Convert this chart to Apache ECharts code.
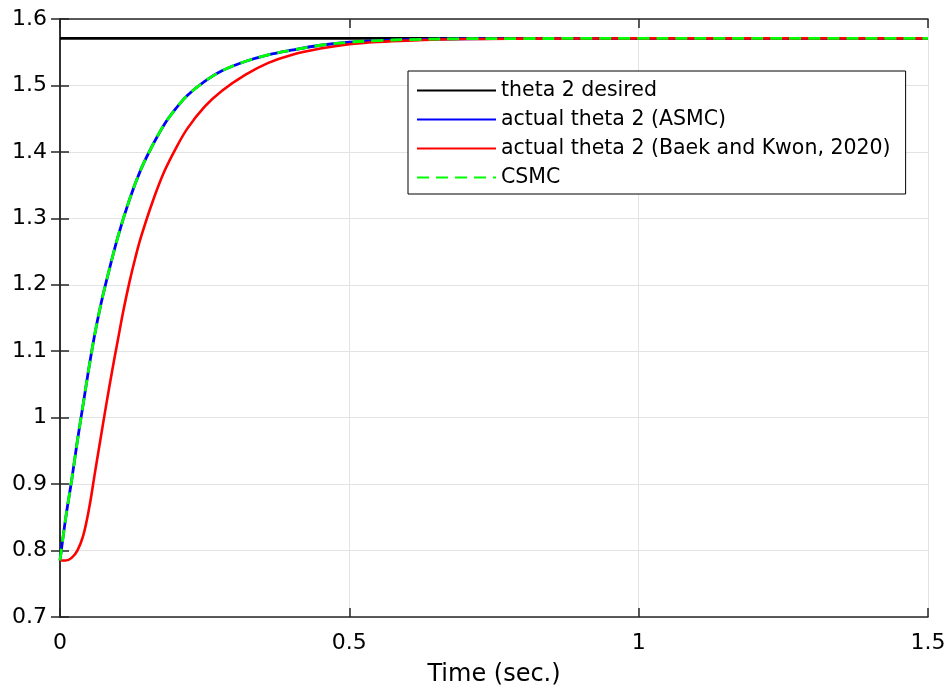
<!DOCTYPE html>
<html>
<head>
<meta charset="utf-8">
<script src="https://cdn.jsdelivr.net/npm/echarts@6/dist/echarts.min.js"></script>
<style>
  html, body { margin: 0; padding: 0; background: #fff; }
  #chart { width: 949px; height: 692px; }
</style>
</head>
<body>
<div id="chart"></div>
<script>
// time samples (sec.)
const tAsmc = [0, 0.01, 0.02, 0.03, 0.04, 0.05, 0.06, 0.07, 0.08, 0.1, 0.12, 0.14, 0.16, 0.18, 0.2,
  0.22, 0.25, 0.28, 0.32, 0.36, 0.4, 0.45, 0.5, 0.55, 0.6, 0.7, 0.8, 1.0, 1.2, 1.5];
const asmc = [0.785, 0.85, 0.905, 0.965, 1.02, 1.075, 1.125, 1.168, 1.205, 1.272, 1.328, 1.374, 1.41, 1.441, 1.465,
  1.485, 1.506, 1.522, 1.536, 1.546, 1.553, 1.5605, 1.565, 1.5675, 1.569, 1.5703, 1.5706, 1.5708, 1.5708, 1.5708];
const csmc = [0.785, 0.85, 0.905, 0.965, 1.02, 1.075, 1.125, 1.168, 1.205, 1.272, 1.328, 1.374, 1.41, 1.441, 1.465,
  1.485, 1.506, 1.522, 1.536, 1.546, 1.553, 1.5605, 1.565, 1.5675, 1.569, 1.5703, 1.5706, 1.5708, 1.5708, 1.5708];

const tBaek = [0, 0.01, 0.02, 0.03, 0.04, 0.05, 0.06, 0.07, 0.08, 0.09, 0.1, 0.11, 0.12, 0.13, 0.14, 0.16, 0.18, 0.2,
  0.22, 0.25, 0.28, 0.32, 0.36, 0.4, 0.45, 0.5, 0.55, 0.6, 0.7, 0.8, 1.0, 1.2, 1.5];
const baek = [0.785, 0.785, 0.789, 0.8, 0.822, 0.862, 0.915, 0.968, 1.02, 1.07, 1.117, 1.163, 1.204, 1.24, 1.272, 1.325, 1.37, 1.405,
  1.435, 1.468, 1.492, 1.516, 1.534, 1.546, 1.5555, 1.562, 1.5655, 1.5675, 1.5698, 1.5704, 1.5708, 1.5708, 1.5708];

const tDesired = [0, 1.5];
const desired = [1.5708, 1.5708];

const names = ["theta 2 desired", "actual theta 2 (ASMC)", "actual theta 2 (Baek and Kwon, 2020)", "CSMC"];

const pairs = (t, v) => t.map((x, i) => [x, v[i]]);

const font = "DejaVu Sans";
const frame = "#262626";

const chart = echarts.init(document.getElementById("chart"));

chart.setOption({
  animation: false,
  backgroundColor: "#fff",
  grid: { left: 60, right: 21, top: 19, bottom: 74 },
  legend: {
    left: 408,
    top: 71,
    orient: "vertical",
    data: names,
    itemWidth: 79,
    itemHeight: 14,
    itemGap: 8,
    padding: [9, 15, 6, 8],
    borderColor: "#000",
    borderWidth: 1,
    backgroundColor: "#fff",
    itemStyle: { opacity: 0 },
    textStyle: { fontFamily: font, fontSize: 20.5, color: "#000" },
  },
  xAxis: [
    {
      type: "value",
      min: 0,
      max: 1.5,
      interval: 0.5,
      name: "Time (sec.)",
      nameLocation: "middle",
      nameGap: 46,
      nameTextStyle: { fontFamily: font, fontSize: 24, color: "#000" },
      axisLine: { lineStyle: { color: frame, width: 1.5 } },
      axisTick: { inside: true, length: 9, lineStyle: { color: frame, width: 1.5 } },
      axisLabel: {
        margin: 15,
        fontFamily: font,
        fontSize: 22,
        color: "#000",
        formatter: (v) => String(parseFloat(v.toFixed(1))),
      },
      splitLine: { show: true, lineStyle: { color: "#e3e3e3", width: 1 } },
    },
    {
      type: "value",
      position: "top",
      min: 0,
      max: 1.5,
      interval: 0.5,
      axisLine: { show: true, lineStyle: { color: frame, width: 1.5 } },
      axisTick: { show: true, inside: true, length: 9, lineStyle: { color: frame, width: 1.5 } },
      axisLabel: { show: false },
      splitLine: { show: false },
    },
  ],
  yAxis: [
    {
      type: "value",
      min: 0.7,
      max: 1.6,
      interval: 0.1,
      axisLine: { show: true, lineStyle: { color: frame, width: 1.5 } },
      axisTick: { show: true, inside: true, length: 9, lineStyle: { color: frame, width: 1.5 } },
      axisLabel: {
        margin: 13,
        fontFamily: font,
        fontSize: 22,
        color: "#000",
        formatter: (v) => String(parseFloat(v.toFixed(1))),
      },
      splitLine: { show: true, lineStyle: { color: "#e3e3e3", width: 1 } },
    },
    {
      type: "value",
      position: "right",
      min: 0.7,
      max: 1.6,
      interval: 0.1,
      axisLine: { show: true, lineStyle: { color: frame, width: 1.5 } },
      axisTick: { show: true, inside: true, length: 9, lineStyle: { color: frame, width: 1.5 } },
      axisLabel: { show: false },
      splitLine: { show: false },
    },
  ],
  series: [
    {
      name: names[0],
      type: "line",
      data: pairs(tDesired, desired),
      symbol: "none",
      color: "#000",
      lineStyle: { color: "#000", width: 2.7 },
    },
    {
      name: names[1],
      type: "line",
      data: pairs(tAsmc, asmc),
      symbol: "none",
      smooth: 0.35,
      color: "#0000ff",
      lineStyle: { color: "#0000ff", width: 2.8 },
    },
    {
      name: names[2],
      type: "line",
      data: pairs(tBaek, baek),
      symbol: "none",
      smooth: 0.35,
      color: "#ff0000",
      lineStyle: { color: "#ff0000", width: 2.6 },
    },
    {
      name: names[3],
      type: "line",
      data: pairs(tAsmc, csmc),
      symbol: "none",
      smooth: 0.35,
      color: "#00ff00",
      lineStyle: { color: "#00ff00", width: 2.8, type: [12, 7] },
    },
  ],
});
</script>
</body>
</html>
